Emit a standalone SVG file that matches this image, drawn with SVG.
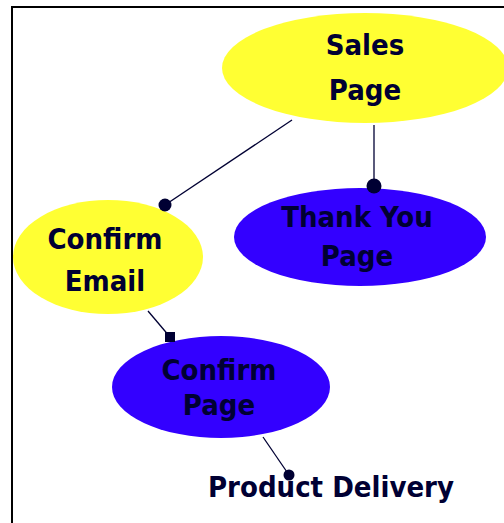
<svg xmlns="http://www.w3.org/2000/svg" width="504" height="523" viewBox="0 0 504 523">
<style>
.yel{fill:#ffff33}
.blu{fill:#3300ff}
.t{font-family:"DejaVu Sans Condensed","DejaVu Sans","Liberation Sans",sans-serif;font-weight:bold;font-size:29px;fill:#000033;text-anchor:middle}
.c{stroke:#000033;stroke-width:1.3;fill:none}
.d{fill:#000033}
</style>
<rect width="504" height="523" fill="#fff"/>
<rect x="12" y="7" width="520" height="540" fill="none" stroke="#000" stroke-width="2"/>
<g id="connectors">
<line class="c" x1="292" y1="120" x2="165" y2="205"/>
<line class="c" x1="374" y1="125" x2="374" y2="186"/>
<line class="c" x1="148" y1="311" x2="170" y2="337"/>
<line class="c" x1="263" y1="437" x2="289" y2="475"/>
</g>
<g id="sales-page">
<ellipse class="yel" cx="365" cy="68" rx="143" ry="55"/>
<text class="t" x="365" y="55">Sales</text>
<text class="t" x="365" y="100">Page</text>
</g>
<g id="thank-you-page">
<ellipse class="blu" cx="360" cy="237" rx="126" ry="49"/>
<text class="t" x="357" y="227">Thank You</text>
<text class="t" x="357" y="266">Page</text>
</g>
<g id="confirm-email">
<ellipse class="yel" cx="108" cy="257" rx="95" ry="57"/>
<text class="t" x="105" y="249">Confirm</text>
<text class="t" x="105" y="291">Email</text>
</g>
<g id="confirm-page">
<ellipse class="blu" cx="221" cy="387" rx="109" ry="51"/>
<text class="t" x="219" y="380">Confirm</text>
<text class="t" x="219" y="415">Page</text>
</g>
<g id="product-delivery">
<text class="t" x="331" y="497">Product Delivery</text>
</g>
<g id="dots">
<circle class="d" cx="165" cy="205" r="6.5"/>
<circle class="d" cx="374" cy="186" r="7.5"/>
<rect class="d" x="165" y="332" width="10" height="10"/>
<circle class="d" cx="289" cy="475" r="5.5"/>
</g>
</svg>
